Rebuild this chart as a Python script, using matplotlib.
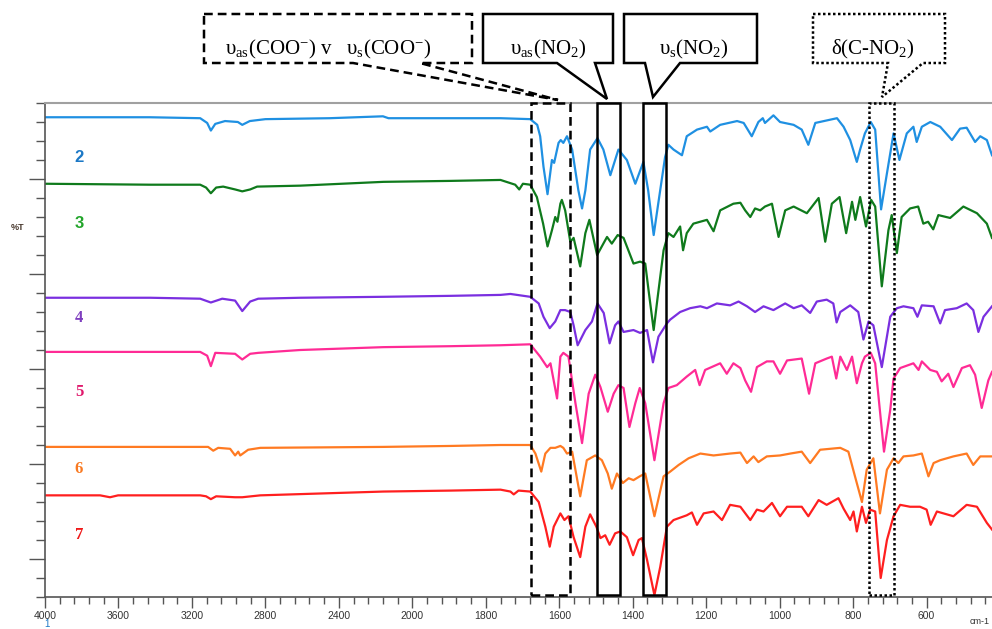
import numpy as np
import matplotlib.pyplot as plt
from matplotlib.patches import Polygon

plt.rcParams['mathtext.fontset'] = 'custom'
plt.rcParams['mathtext.rm'] = 'Liberation Serif'
plt.rcParams['mathtext.it'] = 'Liberation Serif:italic'
plt.rcParams['mathtext.bf'] = 'Liberation Serif:bold'

# FTIR spectra, wavenumber (cm-1) and stacked %T (arbitrary offset units)
wn_2 = [4000, 3430, 3155, 3117, 3097, 3073, 3020, 2950, 2926, 2885,
        2800, 2450, 2160, 2130, 1897, 1760, 1679, 1660, 1652, 1643,
        1632, 1620, 1614, 1602, 1596, 1589, 1579, 1565, 1548, 1538,
        1529, 1516, 1496, 1480, 1461, 1439, 1416, 1393, 1371, 1358,
        1343, 1331, 1312, 1303, 1289, 1266, 1253, 1225, 1198, 1189,
        1162, 1116, 1098, 1076, 1058, 1046, 1040, 1017, 999, 962,
        940, 922, 903, 844, 826, 808, 790, 781, 768, 752,
        740, 724, 708, 690, 674, 654, 636, 627, 613, 590,
        563, 531, 509, 491, 468, 454, 436, 422]
t_2 = [50.5, 50.5, 50.4, 49.9, 49.1, 49.8, 50.1, 50.0, 49.7, 50.1,
       50.3, 50.4, 50.6, 50.4, 50.4, 50.4, 50.3, 49.7, 48.5, 45.3,
       42.4, 46.0, 45.7, 47.8, 48.1, 47.8, 48.5, 47.1, 42.8, 40.9,
       42.8, 47.1, 48.3, 47.1, 44.4, 47.1, 46.0, 43.5, 45.8, 42.8,
       38.1, 41.3, 46.3, 47.6, 47.1, 46.5, 48.5, 49.2, 49.5, 49.0,
       49.7, 50.1, 49.9, 48.5, 50.0, 50.4, 49.9, 50.7, 50.0, 49.7,
       49.2, 47.6, 49.9, 50.4, 49.5, 48.1, 45.8, 47.1, 48.8, 50.0,
       49.2, 40.8, 44.6, 48.8, 46.0, 48.8, 49.5, 47.9, 49.5, 50.0,
       49.5, 48.1, 49.3, 49.4, 47.9, 48.5, 48.1, 46.5]

wn_3 = [4000, 3428, 3155, 3123, 3097, 3068, 3030, 2965, 2926, 2883,
        2845, 2610, 2158, 1897, 1760, 1720, 1709, 1699, 1679, 1661,
        1644, 1632, 1620, 1611, 1605, 1597, 1593, 1584, 1570, 1561,
        1543, 1529, 1518, 1497, 1470, 1457, 1441, 1425, 1398, 1380,
        1366, 1357, 1343, 1333, 1316, 1303, 1289, 1271, 1263, 1253,
        1235, 1198, 1180, 1162, 1126, 1107, 1094, 1080, 1067, 1053,
        1040, 1021, 1003, 985, 962, 926, 894, 876, 858, 837,
        819, 803, 794, 781, 765, 751, 740, 722, 704, 695,
        681, 668, 645, 623, 609, 596, 582, 568, 536, 500,
        463, 436, 422]
t_3 = [43.5, 43.4, 43.4, 43.1, 42.5, 43.1, 43.2, 42.9, 42.7, 42.9,
       43.2, 43.3, 43.7, 43.8, 43.9, 43.4, 42.9, 43.5, 43.4, 42.1,
       39.3, 36.9, 38.6, 40.0, 39.5, 41.4, 41.8, 40.7, 37.4, 37.8,
       34.8, 38.3, 39.7, 36.0, 37.9, 37.2, 38.1, 37.8, 35.1, 35.3,
       35.1, 32.3, 28.1, 31.3, 36.5, 38.3, 37.9, 39.0, 36.5, 38.3,
       39.3, 39.7, 38.5, 40.7, 41.4, 41.5, 40.7, 40.0, 40.9, 40.7,
       41.1, 41.4, 37.9, 40.7, 41.1, 40.4, 42.0, 37.4, 41.4, 42.1,
       38.3, 41.6, 39.7, 42.1, 39.0, 41.8, 41.1, 32.7, 38.6, 40.2,
       36.2, 40.0, 40.9, 41.1, 39.3, 39.5, 38.7, 40.2, 39.9, 41.1,
       40.4, 39.3, 37.8]

wn_4 = [4000, 3428, 3155, 3097, 3035, 2965, 2926, 2883, 2839, 2610,
        2158, 1897, 1760, 1733, 1679, 1656, 1643, 1626, 1611, 1597,
        1584, 1570, 1561, 1550, 1529, 1511, 1496, 1479, 1463, 1448,
        1439, 1425, 1398, 1380, 1361, 1345, 1330, 1307, 1298, 1271,
        1244, 1216, 1198, 1171, 1135, 1112, 1089, 1067, 1044, 1017,
        985, 962, 940, 917, 899, 872, 854, 845, 835, 808,
        786, 772, 758, 745, 722, 699, 681, 663, 636, 625,
        613, 581, 563, 550, 518, 491, 473, 459, 445, 422]
t_4 = [31.5, 31.5, 31.4, 31.0, 31.4, 31.2, 30.1, 31.1, 31.4, 31.5,
       31.6, 31.7, 31.8, 31.9, 31.6, 30.9, 29.5, 28.3, 29.0, 30.2,
       30.2, 30.0, 28.6, 26.5, 28.1, 29.0, 30.9, 29.9, 26.7, 28.6,
       29.0, 27.9, 28.1, 27.8, 28.1, 24.7, 27.4, 28.8, 29.2, 30.0,
       30.4, 30.6, 30.4, 30.9, 30.7, 31.1, 30.6, 30.0, 30.6, 30.2,
       30.9, 30.4, 30.7, 29.9, 31.1, 31.3, 30.9, 28.9, 30.0, 30.7,
       30.0, 27.1, 29.0, 28.6, 24.2, 29.5, 30.4, 30.6, 30.4, 29.5,
       30.7, 30.6, 28.8, 30.2, 30.4, 30.9, 30.2, 27.9, 29.5, 30.6]

wn_5 = [4000, 3428, 3155, 3117, 3097, 3073, 2965, 2926, 2883, 2839,
        2610, 2158, 1897, 1760, 1679, 1652, 1633, 1624, 1606, 1597,
        1589, 1575, 1556, 1538, 1520, 1502, 1488, 1468, 1452, 1439,
        1425, 1409, 1393, 1381, 1366, 1341, 1316, 1303, 1280, 1253,
        1230, 1218, 1203, 1162, 1144, 1126, 1107, 1094, 1078, 1062,
        1035, 1017, 999, 980, 940, 920, 903, 872, 858, 846,
        835, 817, 803, 790, 776, 768, 752, 740, 716, 699,
        690, 672, 636, 622, 613, 590, 572, 559, 541, 527,
        504, 482, 468, 450, 432, 422]
t_5 = [25.8, 25.8, 25.8, 25.4, 24.3, 25.7, 25.6, 25.0, 25.6, 25.7,
       26.0, 26.3, 26.4, 26.5, 26.6, 25.3, 24.2, 24.6, 20.9, 25.3,
       25.7, 25.3, 20.4, 16.2, 21.4, 23.4, 22.1, 19.5, 21.4, 22.3,
       22.0, 17.9, 20.4, 22.0, 20.4, 14.4, 20.4, 22.0, 22.3, 23.2,
       23.9, 22.3, 23.9, 24.6, 23.5, 24.6, 24.1, 22.8, 21.6, 24.2,
       24.8, 24.8, 23.5, 24.9, 25.1, 21.4, 24.6, 25.1, 25.3, 23.0,
       25.3, 23.9, 25.3, 22.5, 24.6, 25.3, 25.7, 24.6, 15.3, 19.7,
       23.0, 24.1, 24.6, 23.9, 24.8, 23.9, 23.7, 22.7, 23.5, 22.1,
       24.1, 24.4, 23.4, 19.9, 22.8, 23.7]

wn_6 = [4000, 3428, 3155, 3112, 3084, 3057, 2992, 2965, 2948, 2937,
        2894, 2828, 2158, 1897, 1760, 1679, 1665, 1649, 1638, 1624,
        1611, 1597, 1589, 1579, 1565, 1543, 1525, 1502, 1484, 1468,
        1457, 1443, 1427, 1411, 1398, 1381, 1366, 1341, 1316, 1298,
        1275, 1248, 1216, 1180, 1135, 1107, 1089, 1071, 1058, 1035,
        999, 971, 940, 917, 890, 835, 813, 795, 776, 763,
        745, 727, 708, 690, 677, 663, 636, 613, 595, 581,
        563, 527, 491, 473, 454, 422]
t_6 = [15.8, 15.8, 15.8, 15.8, 15.4, 15.7, 15.6, 14.9, 15.3, 14.9,
       15.5, 15.7, 15.8, 15.9, 16.0, 16.0, 15.1, 13.2, 15.1, 15.7,
       15.7, 15.9, 15.7, 15.1, 15.3, 10.6, 14.4, 14.9, 14.4, 13.0,
       11.4, 13.0, 12.0, 12.5, 12.3, 12.7, 13.0, 8.5, 12.7, 13.2,
       13.9, 14.6, 15.1, 14.9, 15.1, 15.2, 14.1, 14.8, 14.2, 14.8,
       14.9, 15.1, 15.3, 14.1, 15.5, 15.7, 15.3, 12.7, 10.0, 13.4,
       14.6, 8.8, 13.4, 14.6, 14.1, 14.8, 14.9, 15.1, 12.7, 14.1,
       14.4, 14.8, 15.1, 13.9, 14.8, 14.8]

wn_7 = [4000, 3700, 3646, 3602, 3155, 3123, 3097, 3068, 2965, 2926,
        2828, 2158, 1897, 1760, 1733, 1724, 1711, 1679, 1656, 1638,
        1626, 1615, 1597, 1586, 1575, 1561, 1543, 1529, 1516, 1499,
        1488, 1475, 1463, 1448, 1434, 1416, 1399, 1384, 1375, 1361,
        1341, 1325, 1307, 1289, 1253, 1239, 1225, 1207, 1180, 1157,
        1135, 1107, 1080, 1062, 1044, 1021, 999, 980, 940, 922,
        894, 872, 840, 826, 808, 799, 790, 776, 765, 754,
        740, 725, 708, 690, 672, 645, 618, 600, 589, 572,
        527, 491, 463, 436, 422]
t_7 = [10.7, 10.7, 10.5, 10.7, 10.7, 10.6, 10.3, 10.6, 10.5, 10.5,
       10.7, 11.1, 11.2, 11.3, 11.1, 10.8, 11.2, 11.1, 10.0, 7.4,
       5.3, 7.4, 8.8, 8.1, 8.5, 6.3, 4.2, 7.4, 8.7, 7.4,
       6.2, 6.5, 5.5, 6.7, 6.9, 6.3, 4.4, 6.0, 6.2, 3.9,
       0.2, 3.2, 7.4, 8.1, 8.6, 8.9, 7.6, 8.8, 9.0, 8.1,
       9.7, 9.5, 8.1, 9.2, 9.0, 9.9, 8.5, 9.5, 9.5, 8.5,
       10.2, 9.7, 10.4, 9.3, 8.1, 9.0, 6.9, 9.5, 7.8, 9.2,
       9.0, 2.0, 6.0, 8.5, 9.7, 9.5, 9.5, 9.2, 7.6, 9.0,
       8.5, 9.7, 9.5, 7.8, 7.1]

samples = ['2', '3', '4', '5', '6', '7']
spectra = [(wn_2, t_2), (wn_3, t_3), (wn_4, t_4), (wn_5, t_5), (wn_6, t_6), (wn_7, t_7)]
line_colors = ['#1f90e2', '#0f7a1c', '#7a2fe0', '#ff2b95', '#ff7a22', '#ff1f1f']
label_colors = ['#1b78c6', '#22a52a', '#7f3fbf', '#e0186c', '#f97a22', '#ef1818']
label_fonts = ['Liberation Sans', 'Liberation Sans', 'Liberation Serif',
               'Liberation Serif', 'Liberation Serif', 'Liberation Serif']
label_y = [46.3, 39.3, 29.4, 21.6, 13.5, 6.5]

# marked band regions (cm-1)
bands = [(1677, 1572), (1496, 1434), (1373, 1310), (756, 688)]
band_styles = [(0, (3.5, 2)), '-', '-', (0, (1, 1))]

x_major = [4000, 3600, 3200, 2800, 2400, 2000, 1800, 1600, 1400, 1200, 1000, 800, 600]
x_minor = list(range(4000, 2000, -80)) + list(range(2000, 400, -40))


def fwd(x):
    # instrument axis: half scale above 2000 cm-1
    x = np.asarray(x, dtype=float)
    return np.where(x > 2000, 2000 + (x - 2000) / 2.0, x)


def inv(u):
    u = np.asarray(u, dtype=float)
    return np.where(u > 2000, 2000 + (u - 2000) * 2.0, u)


W, H = 992, 629
fig = plt.figure(figsize=(W / 100, H / 100), dpi=100)
ax = fig.add_axes([45 / W, (H - 597) / H, 947 / W, 494 / H])
ax.set_xscale('function', functions=(fwd, inv))

for (wn, t), c in zip(spectra, line_colors):
    ax.plot(wn, t, color=c, lw=1.6, zorder=2, solid_joinstyle='round')

for s, c, f, y in zip(samples, label_colors, label_fonts, label_y):
    ax.text(3815, y, s, color=c, fontsize=12, fontweight='bold', family=f,
            ha='center', va='center')

for (lo, hi), ls in zip(bands, band_styles):
    ax.axvspan(lo, hi, ymin=0.005, ymax=1, fill=False, ec='black', lw=1.8,
               ls=ls, zorder=4, clip_on=False)

ax.set_xlim(4000, 422)
ax.set_ylim(0, 52)
ax.set_xticks(x_major)
ax.set_xticklabels([str(v) for v in x_major])
ax.set_xticks(x_minor, minor=True)
ax.set_yticks([4, 14, 24, 34, 44])
ax.set_yticks(np.arange(0, 53, 2), minor=True)
ax.tick_params(axis='x', which='major', length=8, width=1, color='#555555',
               labelsize=7.5, labelcolor='#333333', pad=2)
ax.tick_params(axis='x', which='minor', length=5, width=1, color='#555555')
ax.tick_params(axis='y', which='major', length=11.5, width=1, color='#555555', labelleft=False)
ax.tick_params(axis='y', which='minor', length=6.5, width=1, color='#555555')
for lab in ax.get_xticklabels():
    lab.set_family('Liberation Sans')

ax.spines['right'].set_visible(False)
ax.spines['top'].set_color('#a0a0a0')
ax.spines['top'].set_linewidth(1.5)
for sp in ['left', 'bottom']:
    ax.spines[sp].set_color('#555555')
    ax.spines[sp].set_linewidth(1.2)


def fpx(x, y):
    return (x / W, 1 - y / H)


# callout boxes above the plot (pixel outlines)
callouts = [
    ([(204, 14), (472, 14), (472, 63), (420, 63), (558, 100), (353, 63), (204, 63)],
     (0, (3.5, 2)), 328, 'υ$_{\\mathrm{as}}$(COO$^{-}$) v   υ$_{\\mathrm{s}}$(COO$^{-}$)'),
    ([(483, 14), (613, 14), (613, 63), (595, 63), (607, 99), (557, 63), (483, 63)],
     '-', 548, 'υ$_{\\mathrm{as}}$(NO$_{2}$)'),
    ([(624, 14), (757, 14), (757, 63), (680, 63), (653, 97), (645, 63), (624, 63)],
     '-', 694, 'υ$_{\\mathrm{s}}$(NO$_{2}$)'),
    ([(813, 14), (945, 14), (945, 63), (923, 63), (882, 97), (888, 63), (813, 63)],
     (0, (1, 1)), 873, 'δ(C-NO$_{2}$)'),
]
for pts, ls, tx, txt in callouts:
    poly = Polygon([fpx(x, y) for x, y in pts], closed=True, fill=False,
                   ec='black', lw=1.8, ls=ls, transform=fig.transFigure)
    fig.add_artist(poly)
    fig.text(*fpx(tx, 49), txt, family='Liberation Serif', fontsize=15,
             ha='center', va='center')

fig.text(*fpx(18, 227), '%T', fontsize=6.5, color='#4a3a30', ha='center',
         va='center', fontweight='bold', family='Liberation Sans')
fig.text(*fpx(47, 624), '1', fontsize=7, color='#1b78c6', ha='center',
         va='center', family='Liberation Sans')
fig.text(*fpx(990, 621), 'cm-1', fontsize=6.5, color='#333333', ha='right',
         va='center', family='Liberation Sans')

fig.savefig('out.png', dpi=100)
